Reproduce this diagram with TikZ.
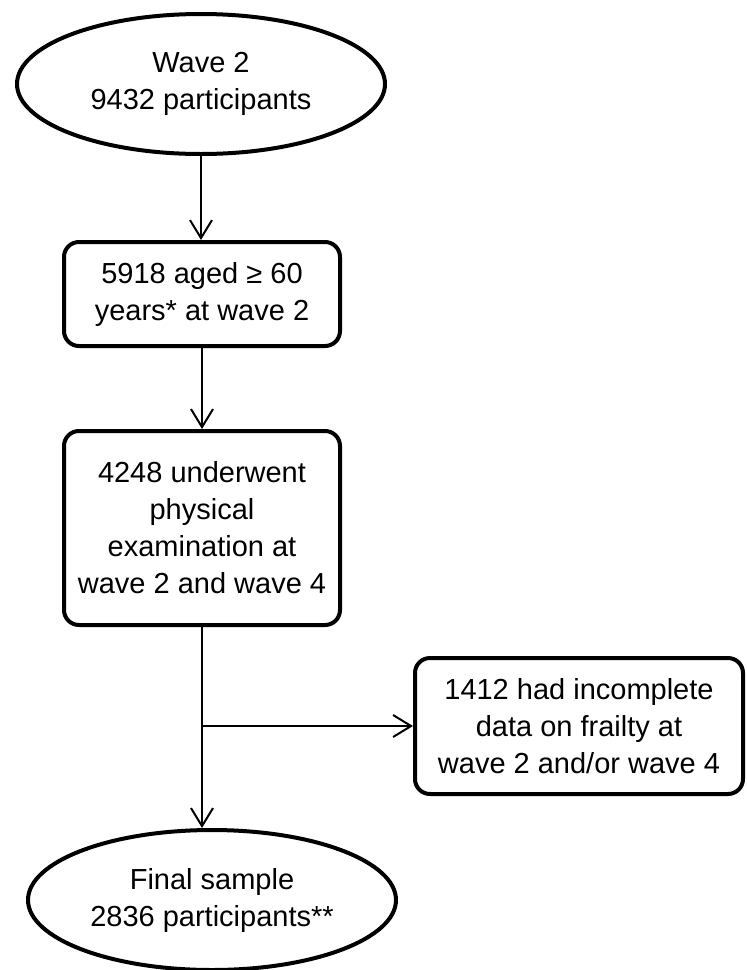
\documentclass[tikz,border=0pt]{standalone}
\usepackage{fontspec}
\setmainfont{Liberation Sans}
\usetikzlibrary{shapes.geometric,arrows.meta}
\tikzset{
  flowtext/.style={font=\fontsize{14.5}{18.5}\selectfont, align=center, inner sep=0pt},
  oval/.style={flowtext, ellipse, draw, line width=2pt, minimum width=184pt, minimum height=70pt},
  stage/.style={flowtext, rectangle, rounded corners=7.5pt, draw, line width=2pt},
  flowline/.style={line width=1pt, -{Straight Barb[length=9pt,width=11pt]}},
}

\begin{document}
\begin{tikzpicture}[x=0.5pt,y=-0.5pt]
\useasboundingbox (0,0) rectangle (747,970);
\node[oval] (wave) at (201,84) {Wave 2\\9432 participants};
\node[stage, minimum width=138pt, minimum height=52pt] (aged) at (202,294) {5918 aged ≥ 60\\years* at wave 2};
\node[stage, minimum width=138pt, minimum height=97pt] (exam) at (202,528) {4248 underwent\\physical\\examination at\\wave 2 and wave 4};
\node[stage, minimum width=164pt, minimum height=68pt] (excl) at (579,726) {1412 had incomplete\\data on frailty at\\wave 2 and/or wave 4};
\node[oval] (final) at (212,900) {Final sample\\2836 participants**};
\draw[flowline] (wave.south) -- (wave.south |- aged.north);
\draw[flowline] (aged.south) -- (exam.north);
\draw[flowline] (exam.south) -- (exam.south |- final.north);
\coordinate (split) at (exam.south |- excl.west);
\draw[flowline] (split) -- (excl.west);
\end{tikzpicture}
\end{document}
